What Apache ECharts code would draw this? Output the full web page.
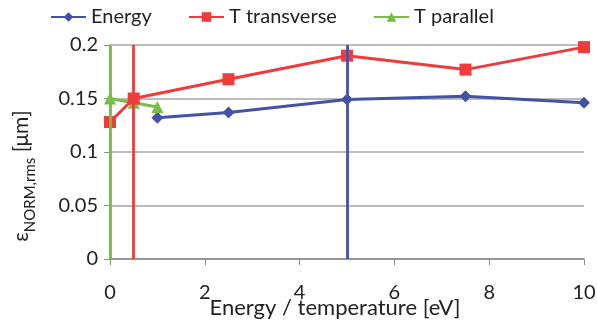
<!DOCTYPE html>
<html>
<head>
<meta charset="utf-8">
<script src="https://cdn.jsdelivr.net/npm/echarts@6/dist/echarts.min.js"></script>
<style>
html,body{margin:0;padding:0;background:#fff;}
#chart{width:597px;height:326px;}
</style>
</head>
<body>
<div id="chart"></div>
<script>
// Emittance vs. energy / temperature
const energyX = [1, 2.5, 5, 7.5, 10];
const energyY = [0.132, 0.137, 0.149, 0.152, 0.146];

const transX = [0, 0.5, 2.5, 5, 7.5, 10];
const transY = [0.128, 0.150, 0.168, 0.190, 0.177, 0.198];

const paraX = [0, 0.5, 1];
const paraY = [0.150, 0.146, 0.142];

// Reference values marked with vertical lines
const energyMarkX = 5;
const transMarkX = 0.5;
const paraMarkX = 0;

const xTicks = [0, 2, 4, 6, 8, 10];
const yTicks = [0, 0.05, 0.1, 0.15, 0.2];

const BLUE = '#4452a6';
const RED = '#ef3b3b';
const GREEN = '#74bf44';
const FONT = 'Lato, "Open Sans", sans-serif';

const pairs = (xs, ys) => xs.map((x, i) => [x, ys[i]]);

function vline(x, color) {
  return {
    silent: true,
    symbol: ['none', 'none'],
    label: {show: false},
    lineStyle: {color: color, width: 2.8, type: 'solid'},
    data: [{xAxis: x}]
  };
}

const chart = echarts.init(document.getElementById('chart'), null, {renderer: 'canvas'});

const legendBase = {
  top: 2,
  itemWidth: 35,
  itemHeight: 12,
  textStyle: {fontFamily: FONT, fontSize: 20, color: '#222'},
  itemGap: 0
};

chart.setOption({
  animation: false,
  backgroundColor: '#fff',
  legend: [
    Object.assign({}, legendBase, {left: 45, data: ['Energy']}),
    Object.assign({}, legendBase, {left: 183, data: ['T transverse']}),
    Object.assign({}, legendBase, {left: 368, data: ['T parallel']})
  ],
  grid: {left: 110, right: 13, top: 45, bottom: 67, containLabel: false, outerBoundsMode: 'none'},
  xAxis: {
    type: 'value',
    min: xTicks[0],
    max: xTicks[xTicks.length - 1],
    interval: 2,
    name: 'Energy / temperature [eV]',
    nameLocation: 'middle',
    nameGap: 38,
    nameMoveOverlap: false,
    nameTextStyle: {fontFamily: FONT, fontSize: 22, color: '#222', padding: [0, 0, 0, -24]},
    axisLine: {show: true, lineStyle: {color: '#8a8a8a', width: 1.5}},
    axisTick: {show: true, inside: false, length: 6, lineStyle: {color: '#8a8a8a'}},
    axisLabel: {fontFamily: FONT, fontSize: 20, color: '#222', margin: 24},
    splitLine: {show: false}
  },
  yAxis: {
    type: 'value',
    min: yTicks[0],
    max: yTicks[yTicks.length - 1],
    interval: 0.05,
    name: '{e|ε}{s|NORM,rms}{e| [μm]}',
    nameLocation: 'middle',
    nameRotate: 90,
    nameGap: 78,
    nameMoveOverlap: false,
    nameTextStyle: {
      padding: [0, 0, 0, -48],
      rich: {
        e: {fontFamily: FONT, fontSize: 21, color: '#222', lineHeight: 28, verticalAlign: 'bottom'},
        s: {fontFamily: FONT, fontSize: 15, color: '#222', lineHeight: 28, verticalAlign: 'bottom', padding: [0, 0, -6, 0]}
      }
    },
    axisLine: {show: true, lineStyle: {color: '#8a8a8a', width: 1.5}},
    axisTick: {show: true, inside: false, length: 6, lineStyle: {color: '#8a8a8a'}},
    axisLabel: {
      fontFamily: FONT, fontSize: 20, color: '#222', margin: 12,
      formatter: v => String(+v.toFixed(2))
    },
    splitLine: {show: true, lineStyle: {color: '#a6a6a6', width: 1.5}}
  },
  series: [
    {
      name: 'Energy',
      type: 'line',
      data: pairs(energyX, energyY),
      color: BLUE,
      symbol: 'diamond',
      symbolSize: 12,
      lineStyle: {width: 3},
      markLine: vline(energyMarkX, BLUE),
      z: 3
    },
    {
      name: 'T transverse',
      type: 'line',
      data: pairs(transX, transY),
      color: RED,
      symbol: 'rect',
      symbolSize: 12,
      lineStyle: {width: 3},
      markLine: vline(transMarkX, RED),
      z: 4
    },
    {
      name: 'T parallel',
      type: 'line',
      data: pairs(paraX, paraY),
      color: GREEN,
      symbol: 'triangle',
      symbolSize: 12,
      lineStyle: {width: 3},
      markLine: vline(paraMarkX, GREEN),
      z: 3
    }
  ]
});
</script>
</body>
</html>
